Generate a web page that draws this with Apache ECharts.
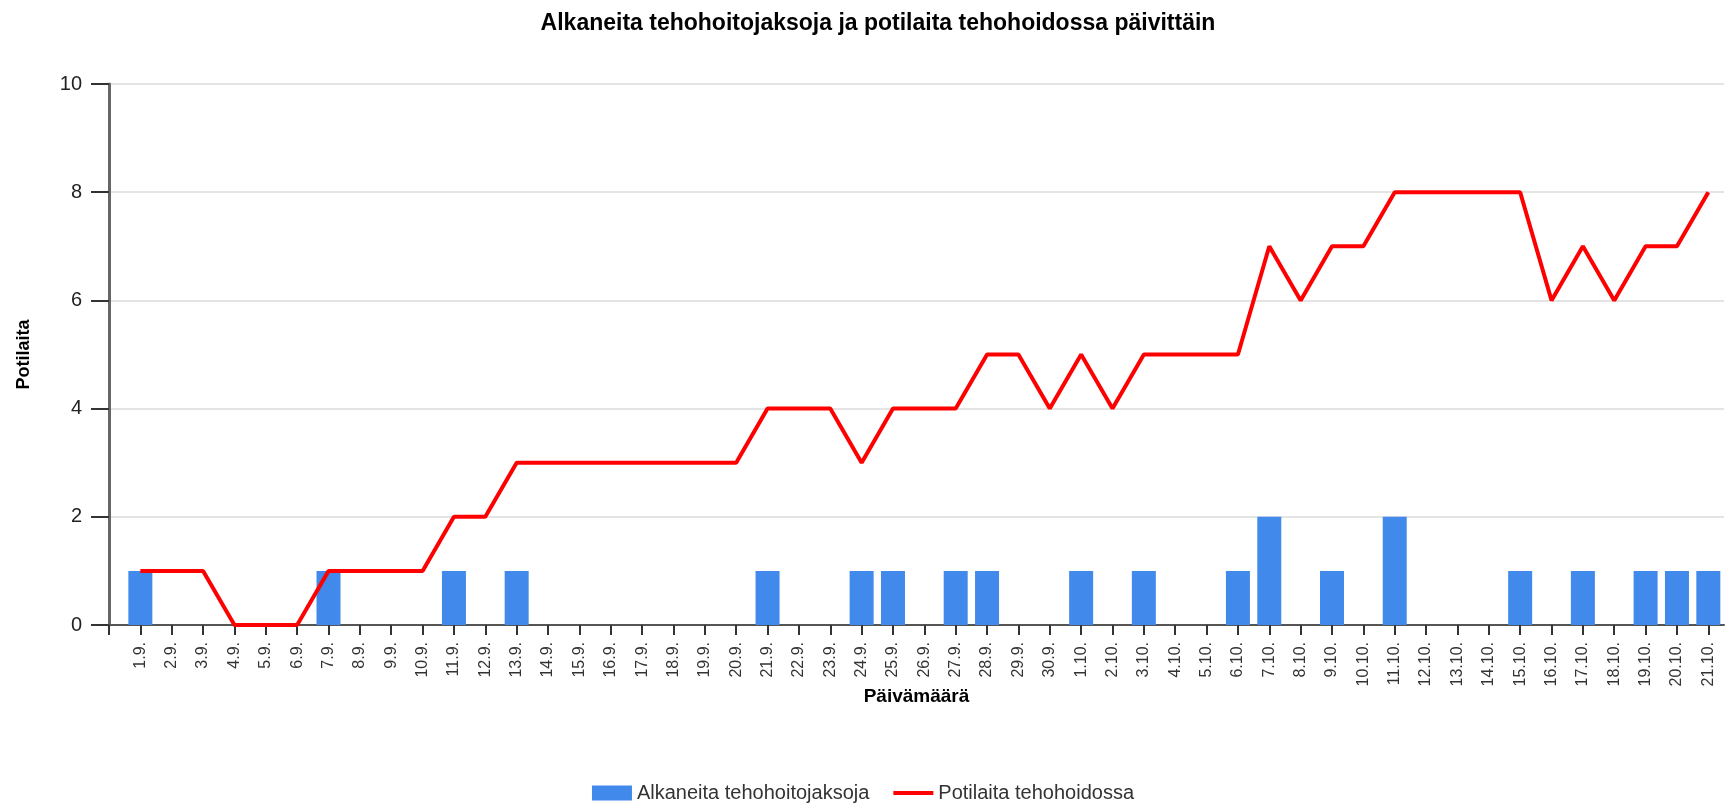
<!doctype html>
<html lang="fi">
<head>
    <meta charset="UTF-8">
    <title>Alkaneita tehohoitojaksoja ja potilaita tehohoidossa päivittäin</title>
    <script src="https://cdn.jsdelivr.net/npm/echarts@6/dist/echarts.min.js"></script>
    <style>
        html, body { margin: 0; padding: 0; background: #fff; }
        #container { width: 1726px; height: 803px; }
    </style>
</head>
<body>
<div id="container"></div>
<script type="text/javascript">

    // päivät 1.9. - 21.10.
    var days = ['1.9.', '2.9.', '3.9.', '4.9.', '5.9.', '6.9.', '7.9.', '8.9.', '9.9.', '10.9.',
        '11.9.', '12.9.', '13.9.', '14.9.', '15.9.', '16.9.', '17.9.', '18.9.', '19.9.', '20.9.',
        '21.9.', '22.9.', '23.9.', '24.9.', '25.9.', '26.9.', '27.9.', '28.9.', '29.9.', '30.9.',
        '1.10.', '2.10.', '3.10.', '4.10.', '5.10.', '6.10.', '7.10.', '8.10.', '9.10.', '10.10.',
        '11.10.', '12.10.', '13.10.', '14.10.', '15.10.', '16.10.', '17.10.', '18.10.', '19.10.', '20.10.',
        '21.10.'];

    var alkaneita = [1, 0, 0, 0, 0, 0, 1, 0, 0, 0,
        1, 0, 1, 0, 0, 0, 0, 0, 0, 0,
        1, 0, 0, 1, 1, 0, 1, 1, 0, 0,
        1, 0, 1, 0, 0, 1, 2, 0, 1, 0,
        2, 0, 0, 0, 1, 0, 1, 0, 1, 1,
        1];

    var potilaita = [1, 1, 1, 0, 0, 0, 1, 1, 1, 1,
        2, 2, 3, 3, 3, 3, 3, 3, 3, 3,
        4, 4, 4, 3, 4, 4, 4, 5, 5, 4,
        5, 4, 5, 5, 5, 5, 7, 6, 7, 7,
        8, 8, 8, 8, 8, 6, 7, 6, 7, 7,
        8];

    var yTicks = [0, 2, 4, 6, 8, 10];

    var dom = document.getElementById("container");
    var myChart = echarts.init(dom);

    var idx = days.map(function (d, i) { return i; });
    var font = 'Arial, "Liberation Sans", sans-serif';

    option = {
        animation: false,
        textStyle: { fontFamily: font },
        title: {
            text: 'Alkaneita tehohoitojaksoja ja potilaita tehohoidossa päivittäin',
            left: 873,
            textAlign: 'center',
            top: 7,
            textStyle: { fontSize: 23, fontWeight: 'bold', color: '#000', fontFamily: font }
        },
        legend: {
            top: 778,
            left: 'center',
            itemWidth: 40,
            itemHeight: 15,
            itemGap: 24,
            textStyle: { fontSize: 20, color: '#333', fontFamily: font },
            data: [
                { name: 'Alkaneita tehohoitojaksoja', icon: 'rect' },
                { name: 'Potilaita tehohoidossa', icon: 'path://M0,0 L40,0 L40,4 L0,4 Z' }
            ]
        },
        grid: { left: 109, right: 2, top: 84, bottom: 178 },
        xAxis: {
            type: 'value',
            min: -1,
            max: 50.5,
            interval: 1,
            name: 'Päivämäärä',
            nameLocation: 'middle',
            nameGap: 62,
            nameMoveOverlap: false,
            nameTextStyle: { fontSize: 19, fontWeight: 'bold', color: '#000' },
            splitLine: { show: false },
            axisLine: { show: true, onZero: false, lineStyle: { color: '#555', width: 2 } },
            axisTick: {
                show: true,
                length: 10,
                customValues: [-1].concat(idx),
                lineStyle: { color: '#333', width: 2 }
            },
            axisLabel: {
                customValues: idx,
                rotate: 90,
                margin: 17,
                fontSize: 16,
                color: '#333',
                formatter: function (v) { return days[v] || ''; }
            }
        },
        yAxis: {
            type: 'value',
            min: 0,
            max: 10,
            interval: 2,
            name: 'Potilaita',
            nameLocation: 'middle',
            nameGap: 76,
            nameTextStyle: { fontSize: 18, fontWeight: 'bold', color: '#000' },
            axisLine: { show: true, onZero: false, lineStyle: { color: '#666', width: 3 } },
            axisTick: { show: true, length: 18, lineStyle: { color: '#333', width: 2 } },
            axisLabel: {
                margin: 27,
                fontSize: 20,
                color: '#222',
                customValues: yTicks
            },
            splitLine: { show: true, lineStyle: { color: '#e4e4e4', width: 2 } }
        },
        series: [{
            name: 'Alkaneita tehohoitojaksoja',
            type: 'bar',
            barWidth: 24,
            itemStyle: { color: '#4189eb' },
            data: alkaneita.map(function (v, i) { return [i, v]; })
        }, {
            name: 'Potilaita tehohoidossa',
            type: 'line',
            symbol: 'none',
            z: 3,
            lineStyle: { color: '#ff0000', width: 4 },
            itemStyle: { color: '#ff0000' },
            data: potilaita.map(function (v, i) { return [i, v]; })
        }]
    };

    myChart.setOption(option, true);

</script>
</body>
</html>
